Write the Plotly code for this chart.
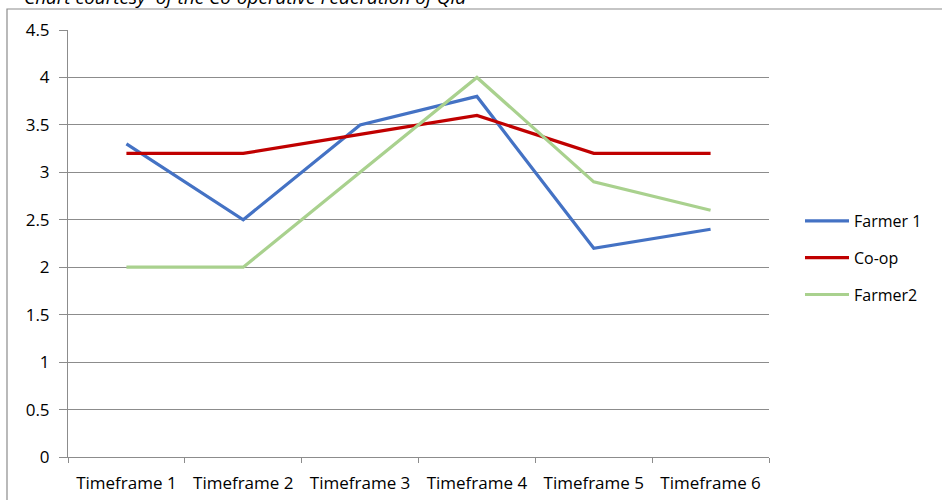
import plotly.graph_objects as go

categories = ["Timeframe 1", "Timeframe 2", "Timeframe 3", "Timeframe 4", "Timeframe 5", "Timeframe 6"]
farmer1 = [3.3, 2.5, 3.5, 3.8, 2.2, 2.4]
coop = [3.2, 3.2, 3.4, 3.6, 3.2, 3.2]
farmer2 = [2.0, 2.0, 3.0, 4.0, 2.9, 2.6]
y_ticks = [0, 0.5, 1, 1.5, 2, 2.5, 3, 3.5, 4, 4.5]
y_tick_labels = ["0", "0.5", "1", "1.5", "2", "2.5", "3", "3.5", "4", "4.5"]

FONT = "Open Sans"
GRID = "#8c8c8c"

fig = go.Figure()
for i, (name, vals, color) in enumerate([
    ("Farmer 1", farmer1, "#4472C4"),
    ("Co-op", coop, "#C00000"),
    ("Farmer2", farmer2, "#A9D18E"),
]):
    fig.add_trace(go.Scatter(
        x=categories, y=vals, name=name, mode="lines", legendgroup=f"g{i}",
        line=dict(color=color, width=3.2),
    ))

W, H = 942, 500
L, R, T, B = 68, 173, 30, 43
pw, ph = W - L - R, H - T - B

def px_x(x):
    return (x - L) / pw

def px_y(y):
    return (H - B - y) / ph

fig.update_layout(
    width=W, height=H,
    margin=dict(l=L, r=R, t=T, b=B),
    paper_bgcolor="white", plot_bgcolor="white",
    font=dict(family=FONT, size=17, color="#000000"),
    showlegend=True,
    legend=dict(
        x=px_x(800), y=px_y(258), xanchor="left", yanchor="middle",
        font=dict(family=FONT, size=16, color="#000000"),
        traceorder="grouped", tracegroupgap=13, itemwidth=44,
        bgcolor="rgba(0,0,0,0)",
    ),
    xaxis=dict(
        type="category", showgrid=False, showline=True, linecolor=GRID, linewidth=1,
        ticks="outside", ticklen=5, tickcolor=GRID, tickson="boundaries",
        ticklabelstandoff=11, automargin=False,
        range=[-0.5, 5.5], tickfont=dict(family=FONT, size=17), fixedrange=True,
    ),
    yaxis=dict(
        range=[0, 4.5], tickvals=y_ticks, ticktext=y_tick_labels,
        showgrid=True, gridcolor=GRID, gridwidth=1, zeroline=False,
        showline=True, linecolor=GRID, linewidth=1, automargin=False,
        ticks="outside", ticklen=8, tickcolor=GRID, ticklabelstandoff=6,
        tickfont=dict(family=FONT, size=17), fixedrange=True,
    ),
    shapes=[dict(
        type="rect", xref="paper", yref="paper",
        x0=px_x(7), x1=px_x(1200), y0=px_y(9), y1=px_y(700),
        line=dict(color=GRID, width=1.2), fillcolor="rgba(0,0,0,0)", layer="below",
    )],
    annotations=[dict(
        text="<i>Chart courtesy  of the Co-operative Federation of Qld</i>",
        xref="paper", yref="paper", x=px_x(22), y=px_y(-3),
        xanchor="left", yanchor="middle", showarrow=False,
        font=dict(family=FONT, size=19, color="#000000"),
    )],
)

fig.write_html("out.html")
